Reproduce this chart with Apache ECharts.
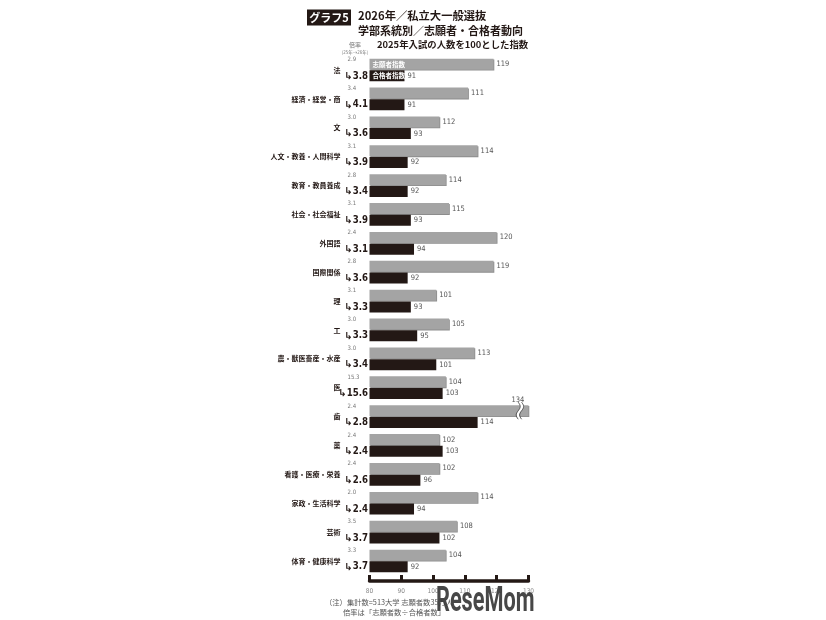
<!DOCTYPE html>
<html><head><meta charset="utf-8">
<script src="https://cdn.jsdelivr.net/npm/echarts@6/dist/echarts.min.js"></script>
<style>html,body{margin:0;padding:0;background:#fff}#c{width:826px;height:620px}</style>
</head><body><div id="c"></div>
<script>
const categories = ['法','経済・経営・商','文','人文・教養・人間科学','教育・教員養成','社会・社会福祉','外国語','国際関係','理','工','農・獣医畜産・水産','医','歯','薬','看護・医療・栄養','家政・生活科学','芸術','体育・健康科学'];
// bar lengths as drawn in the reference
const applicantBars = [119,111,102,114,104,105,120,119,101,105,113,104,134,102,102,114,107.5,104];
// numbers printed next to the bars
const applicantLabels = [119,111,112,114,114,115,120,119,101,105,113,104,134,102,102,114,108,104];
const passIndex = [91,91,93,92,92,93,94,92,93,95,101,103,114,103,96,94,102,92];
const ratio2025 = ['2.9','3.4','3.0','3.1','2.8','3.1','2.4','2.8','3.1','3.0','3.0','15.3','2.4','2.4','2.4','2.0','3.5','3.3'];
const ratio2026 = ['3.8','4.1','3.6','3.9','3.4','3.9','3.1','3.6','3.3','3.3','3.4','15.6','2.8','2.4','2.6','2.4','3.7','3.7'];
const xTicks = [80,90,100,110,120,130];

const DARK = '#231815';
const COND = "'DejaVu Sans Condensed','Liberation Sans Narrow',sans-serif";
const JP = "'Noto Sans CJK JP',sans-serif";
const xMax = xTicks[xTicks.length-1];

const chart = echarts.init(document.getElementById('c'), null, {renderer:'canvas'});

const baseY = {type:'category', data:categories, inverse:true, position:'left', offset:0,
  axisLine:{show:false}, axisTick:{show:false}, splitLine:{show:false}};

const valueLabel = {show:true, position:'right', distance:3, color:'#555', fontSize:7.5, fontFamily:COND};

chart.setOption({
  animation:false,
  grid:{left:369.5, right:297.5, top:55.6, bottom:44.6},
  xAxis:{type:'value', min:xTicks[0], max:xMax, interval:xTicks[1]-xTicks[0], position:'bottom', offset:5.5,
    axisLine:{show:true, lineStyle:{color:DARK, width:3.5}},
    axisTick:{show:true, inside:true, length:6, lineStyle:{color:DARK, width:3}},
    axisLabel:{color:'#888', fontSize:6.5, margin:7, fontFamily:COND},
    splitLine:{show:false}},
  yAxis:[
    Object.assign({}, baseY, {axisLabel:{margin:29, fontSize:7, fontWeight:'bold', color:DARK, fontFamily:JP}}),
    Object.assign({}, baseY, {axisLabel:{margin:22, align:'left', verticalAlign:'bottom', lineHeight:7, padding:[0,0,7,0],
      fontSize:6, color:'#777', fontFamily:COND, formatter:(v,i)=>ratio2025[i]}}),
    Object.assign({}, baseY, {axisLabel:{margin:1.5, align:'right', verticalAlign:'top', lineHeight:12,
      color:DARK, fontFamily:COND, formatter:(v,i)=>'{a|↳}{n|'+ratio2026[i]+'}',
      rich:{a:{fontSize:10, fontWeight:'bold', color:DARK, fontFamily:'DejaVu Sans', lineHeight:12},
            n:{fontSize:9.6, fontWeight:'bold', color:DARK, fontFamily:COND, lineHeight:12}}}})
  ],
  series:[
    {type:'bar', name:'志願者指数', yAxisIndex:0, barWidth:11, barGap:'6%',
     data:applicantBars.map((v,i)=> v>xMax ? {value:v, label:{show:false}} : v),
     itemStyle:{color:'#a4a4a4', shadowColor:'rgba(0,0,0,0.45)', shadowOffsetX:0.8, shadowOffsetY:0.8, shadowBlur:0},
     label:Object.assign({}, valueLabel, {formatter:p=>applicantLabels[p.dataIndex]})},
    {type:'bar', name:'合格者指数', yAxisIndex:0, barWidth:11, barGap:'6%', data:passIndex,
     itemStyle:{color:DARK},
     label:Object.assign({}, valueLabel)}
  ]
});

// decorations positioned through the chart's scales
const px = (v, i) => chart.convertToPixel({xAxisIndex:0, yAxisIndex:0}, [v, i]);
const g = [];
const p0 = px(xTicks[0], 0);
g.push({type:'text', id:'lg1', z:30, x:p0[0]+3, y:p0[1]-5.85, style:{text:'志願者指数', fill:'#fff', font:"bold 6.5px "+JP, textVerticalAlign:'middle'}});
g.push({type:'text', id:'lg2', z:30, x:p0[0]+3, y:p0[1]+5.85, style:{text:'合格者指数', fill:'#fff', font:"bold 6.5px "+JP, textVerticalAlign:'middle'}});
applicantBars.forEach((v,i)=>{
  if (v <= xMax) return;
  const end = px(xMax, i);
  const br = px(127.3, i);
  const yT = end[1]-5.85-8.5, yB = end[1]-5.85+8.5;
  const wave = (x0) => { const pts=[]; for(let k=0;k<=16;k++){const t=k/16; pts.push([x0+2*Math.sin(t*2*Math.PI), yT+t*(yB-yT)]);} return pts; };
  const L = wave(br[0]-1.7), R = wave(br[0]+1.7);
  g.push({type:'polygon', id:'brk'+i, shape:{points:L.concat(R.slice().reverse())}, style:{fill:'#fff'}, z:10});
  g.push({type:'polyline', id:'brkL'+i, shape:{points:L}, style:{stroke:'#444', lineWidth:0.9, fill:null}, z:11});
  g.push({type:'polyline', id:'brkR'+i, shape:{points:R}, style:{stroke:'#444', lineWidth:0.9, fill:null}, z:11});
  g.push({type:'text', id:'brkT'+i, x:br[0]-2, y:end[1]-5.85-6.5, style:{text:String(applicantLabels[i]), fill:'#555', font:"7.5px "+COND, textAlign:'center', textVerticalAlign:'bottom'}, z:11});
});
g.push({type:'rect', id:'tbox', shape:{x:307, y:9.5, width:44, height:16}, style:{fill:DARK}});
g.push({type:'text', id:'tbt', x:329, y:17.7, style:{text:'グラフ5', fill:'#fff', font:"bold 11px "+JP, textAlign:'center', textVerticalAlign:'middle'}});
g.push({type:'text', id:'t1', x:358, y:15.5, style:{text:'2026年／私立大一般選抜', fill:DARK, font:"bold 11.3px "+JP, textVerticalAlign:'middle'}});
g.push({type:'text', id:'t2', x:358, y:30.5, style:{text:'学部系統別／志願者・合格者動向', fill:DARK, font:"bold 11px "+JP, textVerticalAlign:'middle'}});
g.push({type:'text', id:'t3', x:377, y:44.5, style:{text:'2025年入試の人数を100とした指数', fill:DARK, font:"bold 9.4px "+JP, textVerticalAlign:'middle'}});
g.push({type:'text', id:'h1', x:355, y:44.5, style:{text:'倍率', fill:'#777', font:"6px "+JP, textAlign:'center', textVerticalAlign:'middle'}});
g.push({type:'text', id:'h2', x:355, y:52, style:{text:'(25年→26年)', fill:'#777', font:"4.5px "+JP, textAlign:'center', textVerticalAlign:'middle'}});
g.push({type:'text', id:'f1', x:325, y:602.5, style:{text:'（注）集計数=513大学 志願者数35万人', fill:'#555', font:"7.3px "+JP, textVerticalAlign:'middle'}});
g.push({type:'text', id:'f2', x:343, y:612, style:{text:'倍率は「志願者数÷合格者数」', fill:'#555', font:"7.3px "+JP, textVerticalAlign:'middle'}});
g.push({type:'text', id:'wm', x:436, y:620, scaleX:0.62, z:20,
  style:{text:'ReseMom', fill:'rgba(55,55,55,0.92)', font:"bold 35px Roboto, sans-serif", textVerticalAlign:'bottom', stroke:'rgba(255,255,255,0.6)', lineWidth:1}});
chart.setOption({graphic:g});
</script>
</body></html>
